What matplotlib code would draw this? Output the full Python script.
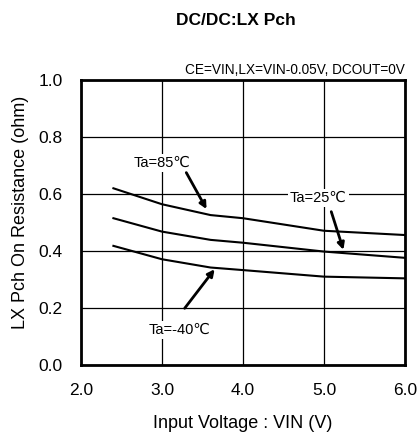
import matplotlib.pyplot as plt

plt.rcParams['font.family'] = ['Liberation Sans', 'DejaVu Sans']

vin = [2.4, 3.0, 3.6, 4.0, 5.0, 6.0]
r_85 = [0.620, 0.564, 0.526, 0.515, 0.471, 0.456]
r_25 = [0.515, 0.468, 0.439, 0.429, 0.398, 0.376]
r_m40 = [0.418, 0.371, 0.342, 0.333, 0.310, 0.304]

xticks = [2.0, 3.0, 4.0, 5.0, 6.0]
yticks = [0.0, 0.2, 0.4, 0.6, 0.8, 1.0]

fig = plt.figure(figsize=(4.18, 4.34), dpi=100)
ax = fig.add_axes([0.1938, 0.159, 0.775, 0.6567])

for r in (r_85, r_25, r_m40):
    ax.plot(vin, r, color='black', lw=1.5, zorder=3)

ax.set_xlim(2.0, 6.0)
ax.set_ylim(0.0, 1.0)
ax.set_xticks(xticks)
ax.set_yticks(yticks)
ax.set_xticklabels([f'{v:.1f}' for v in xticks])
ax.set_yticklabels([f'{v:.1f}' for v in yticks])
ax.tick_params(length=0, labelsize=12.5, pad=13)
ax.grid(True, color='black', lw=0.9)
for s in ax.spines.values():
    s.set_linewidth(2)
    s.set_zorder(5)

box = dict(facecolor='white', edgecolor='none', pad=1.5)
arrow = dict(arrowstyle='-|>', color='black', lw=2, mutation_scale=10, shrinkA=0, shrinkB=0)

ax.text(3.0, 0.71, 'Ta=85\u2103', ha='center', va='center', fontsize=10.5, bbox=box, zorder=4)
ax.annotate('', xy=(3.55, 0.547), xytext=(3.30, 0.675), arrowprops=arrow, zorder=4)

ax.text(4.93, 0.585, 'Ta=25\u2103', ha='center', va='center', fontsize=10.5, bbox=box, zorder=4)
ax.annotate('', xy=(5.24, 0.404), xytext=(5.09, 0.538), arrowprops=arrow, zorder=4)

ax.text(3.22, 0.123, 'Ta=-40\u2103', ha='center', va='center', fontsize=10.5, bbox=box, zorder=4)
ax.annotate('', xy=(3.65, 0.336), xytext=(3.28, 0.199), arrowprops=arrow, zorder=4)

ax.set_xlabel('Input Voltage : VIN (V)', fontsize=13, labelpad=12)
ax.set_ylabel('LX Pch On Resistance (ohm)', fontsize=13)
ax.yaxis.set_label_coords(-0.16, 0.535)

fig.text(0.565, 0.952, 'DC/DC:LX Pch', ha='center', va='center', fontsize=12.5, fontweight='bold')
fig.text(0.9689, 0.838, 'CE=VIN,LX=VIN-0.05V, DCOUT=0V', ha='right', va='center', fontsize=9.8)

fig.savefig('out.png', dpi=100)
